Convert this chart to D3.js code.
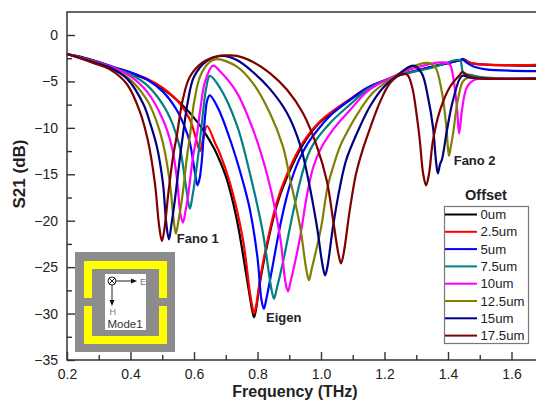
<!DOCTYPE html>
<html>
<head>
<meta charset="utf-8">
<script src="https://cdn.jsdelivr.net/npm/d3@7"></script>
<style>
  html, body { margin: 0; padding: 0; background: #fff; overflow: hidden; }
  text { font-family: "Liberation Sans", Arial, sans-serif; }
</style>
</head>
<body>
<div id="chart"></div>
<script>
// [frequency THz, S21 dB]
var s0 = [[0.2,-2.05],[0.25,-2.4],[0.3,-2.95],[0.35,-3.55],[0.398,-4.1],[0.452,-4.8],[0.502,-5.8],[0.556,-7.3],[0.609,-9.3],[0.66,-12],[0.682,-13.6],[0.704,-15.6],[0.735,-19.9],[0.767,-26.3],[0.783,-29.6],[0.789,-30.4],[0.795,-29.6],[0.808,-26.6],[0.83,-22.7],[0.861,-18.3],[0.893,-15.3],[0.943,-11.8],[0.997,-9.4],[1.091,-7],[1.145,-5.8],[1.208,-4.8],[1.249,-4.3],[1.353,-3.4],[1.44,-2.7],[1.448,-2.6],[1.47,-3],[1.52,-3.2],[1.68,-3.3]];
var s1 = [[0.2,-2.05],[0.3,-2.9],[0.35,-3.5],[0.398,-4.05],[0.452,-4.7],[0.502,-5.7],[0.556,-7.4],[0.587,-9.1],[0.605,-11],[0.619,-12.5],[0.628,-11.3],[0.641,-9.8],[0.666,-11.6],[0.682,-12.8],[0.713,-15.9],[0.754,-22],[0.776,-27.7],[0.784,-29.3],[0.789,-30],[0.795,-29.3],[0.808,-26.3],[0.83,-22.4],[0.861,-18],[0.893,-15],[0.943,-11.6],[0.997,-9.3],[1.091,-6.9],[1.145,-5.7],[1.208,-4.8],[1.249,-4.3],[1.353,-3.4],[1.44,-2.7],[1.45,-2.7],[1.47,-3],[1.52,-3.2],[1.68,-3.2]];
var s2 = [[0.2,-2.05],[0.3,-2.9],[0.35,-3.5],[0.398,-4],[0.452,-4.8],[0.502,-6.1],[0.546,-8.1],[0.572,-10],[0.587,-11.6],[0.603,-14.8],[0.611,-16.2],[0.618,-15.4],[0.625,-13.4],[0.635,-8.7],[0.642,-7],[0.65,-6.5],[0.676,-7.9],[0.713,-11.2],[0.751,-15.4],[0.776,-18.8],[0.8,-24],[0.812,-28.4],[0.82,-29.5],[0.828,-28.4],[0.84,-26.3],[0.871,-20.6],[0.89,-17.7],[0.909,-15.4],[0.93,-13.5],[0.956,-11.8],[0.997,-9.9],[1.038,-8.4],[1.091,-7],[1.145,-5.7],[1.208,-4.8],[1.249,-4.3],[1.353,-3.4],[1.438,-2.7],[1.444,-2.6],[1.46,-3],[1.48,-3.4],[1.52,-3.7],[1.68,-3.9]];
var s3 = [[0.2,-2.05],[0.3,-3],[0.35,-3.55],[0.398,-4.2],[0.452,-5.4],[0.502,-7.5],[0.534,-9.7],[0.556,-12.2],[0.576,-16.6],[0.587,-18.7],[0.595,-17.4],[0.603,-15.6],[0.616,-12.2],[0.628,-8.5],[0.638,-5.8],[0.65,-4.4],[0.682,-5.7],[0.735,-9.7],[0.776,-14.9],[0.817,-21.3],[0.844,-27.4],[0.852,-28.4],[0.86,-27.4],[0.88,-24.5],[0.912,-19.1],[0.934,-15.8],[0.955,-13.3],[0.975,-11.8],[1.028,-9.5],[1.091,-7.5],[1.145,-5.9],[1.208,-4.8],[1.249,-4.3],[1.353,-3.5],[1.437,-2.7],[1.445,-3.8],[1.452,-4.2],[1.47,-4.3],[1.52,-4.6],[1.68,-4.7]];
var s4 = [[0.2,-2.05],[0.3,-3],[0.35,-3.6],[0.398,-4.4],[0.452,-6.1],[0.502,-9.1],[0.53,-12],[0.546,-15.4],[0.557,-19.2],[0.565,-20.2],[0.573,-19],[0.581,-17.4],[0.597,-13.1],[0.609,-10.8],[0.62,-8],[0.635,-5],[0.66,-3.3],[0.682,-3.9],[0.735,-6.2],[0.786,-10.2],[0.833,-15.4],[0.871,-21.7],[0.888,-26.6],[0.896,-27.6],[0.904,-26.6],[0.934,-21.8],[0.955,-17.4],[0.975,-14.3],[0.997,-12.4],[1.038,-10.2],[1.091,-8.1],[1.145,-6.1],[1.208,-4.8],[1.3,-3.5],[1.385,-2.95],[1.406,-3.2],[1.416,-4.5],[1.428,-7.7],[1.435,-10.6],[1.444,-8.1],[1.46,-5.6],[1.485,-4.8],[1.52,-4.7],[1.68,-4.7]];
var s5 = [[0.2,-2.05],[0.3,-3.05],[0.35,-3.8],[0.389,-4.5],[0.452,-7],[0.483,-9.4],[0.502,-11.6],[0.524,-15.9],[0.535,-19.6],[0.543,-21.4],[0.551,-20],[0.562,-17.7],[0.578,-13.1],[0.587,-10.9],[0.6,-7.3],[0.62,-4.4],[0.65,-2.9],[0.672,-2.6],[0.735,-3.4],[0.786,-5.2],[0.839,-8.4],[0.88,-12],[0.902,-15.4],[0.934,-20.6],[0.954,-25.3],[0.962,-26.4],[0.97,-25.3],[1,-20.8],[1.02,-16.5],[1.04,-14],[1.06,-12],[1.08,-10.6],[1.113,-8.6],[1.164,-6.2],[1.227,-4.6],[1.28,-3.5],[1.337,-3],[1.359,-3.4],[1.381,-6.2],[1.395,-10],[1.399,-11.8],[1.403,-13],[1.408,-12.2],[1.416,-10.6],[1.431,-7],[1.447,-5],[1.463,-4.6],[1.52,-4.7],[1.68,-4.7]];
var s6 = [[0.2,-2.05],[0.3,-3.1],[0.335,-3.5],[0.389,-4.7],[0.44,-7.4],[0.461,-9.4],[0.483,-12],[0.502,-15.9],[0.513,-20.4],[0.521,-22],[0.529,-20.4],[0.54,-17.7],[0.556,-13.1],[0.565,-10.8],[0.58,-7.3],[0.6,-4.5],[0.64,-2.8],[0.69,-2.25],[0.735,-2.7],[0.786,-4],[0.839,-5.8],[0.893,-8.4],[0.934,-11.8],[0.959,-15.4],[0.987,-20.6],[1.005,-24.8],[1.013,-25.9],[1.021,-24.8],[1.038,-20.6],[1.06,-16.3],[1.08,-13.4],[1.113,-10.6],[1.154,-7.7],[1.195,-5.7],[1.239,-4.4],[1.29,-3.3],[1.317,-4.1],[1.337,-6.7],[1.353,-10],[1.362,-13.5],[1.368,-14.9],[1.375,-13.9],[1.381,-13.4],[1.397,-10.2],[1.416,-7],[1.444,-4.4],[1.47,-4.6],[1.52,-4.7],[1.68,-4.7]];
var s7 = [[0.2,-2.05],[0.282,-3],[0.335,-3.7],[0.389,-5.3],[0.43,-8.3],[0.455,-11.4],[0.477,-16],[0.49,-20.5],[0.499,-22.2],[0.508,-20.6],[0.518,-17.4],[0.534,-13.1],[0.546,-10.8],[0.565,-6.9],[0.587,-4.5],[0.625,-3],[0.672,-2.3],[0.703,-2.2],[0.735,-2.25],[0.786,-2.9],[0.839,-4.1],[0.893,-5.9],[0.943,-8.4],[0.987,-12],[1.019,-15.8],[1.038,-19.9],[1.055,-23.6],[1.063,-24.6],[1.071,-23.6],[1.09,-19],[1.11,-15],[1.13,-12.5],[1.155,-10],[1.186,-7.2],[1.217,-5.2],[1.249,-4.3],[1.271,-4.25],[1.287,-5.6],[1.302,-8.8],[1.311,-11.3],[1.322,-15],[1.331,-16.2],[1.34,-15],[1.353,-11.3],[1.375,-8.1],[1.406,-5.6],[1.437,-4.3],[1.445,-4],[1.47,-4.5],[1.52,-4.7],[1.68,-4.7]];

var seriesData = [s0, s1, s2, s3, s4, s5, s6, s7];
var seriesNames = ["0um", "2.5um", "5um", "7.5um", "10um", "12.5um", "15um", "17.5um"];
var seriesColors = ["#000000", "#ff0000", "#0000ff", "#008080", "#ff00ff", "#808000", "#000080", "#800000"];
var xTicks = [0.2, 0.4, 0.6, 0.8, 1.0, 1.2, 1.4, 1.6];
var yTicks = [0, -5, -10, -15, -20, -25, -30, -35];
var xMinor = [0.3, 0.5, 0.7, 0.9, 1.1, 1.3, 1.5];
var yMinor = [-2.5, -7.5, -12.5, -17.5, -22.5, -27.5, -32.5];
var annotations = [
  { text: "Fano 1", x: 0.546, y: -21.9 },
  { text: "Eigen", x: 0.827, y: -30.4 },
  { text: "Fano 2", x: 1.418, y: -13.5 }
];

var width = 536, height = 401;
var left = 67, top_ = 12, bottom = 360;
var axisColor = "#333";

var x = d3.scaleLinear().domain([0.2, 1.6]).range([left, 511.5]);
var y = d3.scaleLinear().domain([0, -35]).range([35, bottom]);

var svg = d3.select("#chart").append("svg")
  .attr("width", width)
  .attr("height", height)
  .style("display", "block");

var line = d3.line()
  .x(function(d) { return x(d[0]); })
  .y(function(d) { return y(d[1]); })
  .curve(d3.curveCatmullRom.alpha(0.5));

// curves
svg.append("g").selectAll("path")
  .data(seriesData)
  .enter().append("path")
  .attr("fill", "none")
  .attr("stroke", function(d, i) { return seriesColors[i]; })
  .attr("stroke-width", 2.2)
  .attr("d", line);

// axes
function styleAxis(g) {
  g.selectAll(".domain").remove();
  g.selectAll("line").attr("stroke", axisColor).attr("stroke-width", 1.4);
  g.selectAll("text")
    .attr("fill", "#222")
    .style("font-size", "14px")
    .style("font-family", "'Liberation Sans', Arial, sans-serif");
}

svg.append("g")
  .attr("transform", "translate(0," + bottom + ")")
  .call(d3.axisBottom(x).tickValues(xTicks).tickFormat(d3.format(".1f")).tickSizeInner(-8).tickPadding(9))
  .call(styleAxis);

svg.append("g")
  .attr("transform", "translate(0," + bottom + ")")
  .call(d3.axisBottom(x).tickValues(xMinor).tickFormat("").tickSizeInner(-5))
  .call(styleAxis);

svg.append("g")
  .attr("transform", "translate(" + left + ",0)")
  .call(d3.axisLeft(y).tickValues(yTicks).tickFormat(d3.format("d")).tickSizeInner(-8).tickPadding(9))
  .call(styleAxis);

svg.append("g")
  .attr("transform", "translate(" + left + ",0)")
  .call(d3.axisLeft(y).tickValues(yMinor).tickFormat("").tickSizeInner(-5))
  .call(styleAxis);

// frame, runs off the right edge like the picture
svg.append("path")
  .attr("fill", "none")
  .attr("stroke", axisColor)
  .attr("stroke-width", 1.5)
  .attr("d", "M" + width + "," + top_ + "H" + left + "V" + bottom + "H" + width);

// axis titles
svg.append("text")
  .attr("x", 295)
  .attr("y", 397)
  .attr("text-anchor", "middle")
  .attr("font-size", 16)
  .attr("font-weight", "bold")
  .attr("fill", "#222")
  .text("Frequency (THz)");

svg.append("text")
  .attr("transform", "translate(25,174) rotate(-90)")
  .attr("text-anchor", "middle")
  .attr("font-size", 17)
  .attr("font-weight", "bold")
  .attr("fill", "#222")
  .text("S21 (dB)");

// peak labels
svg.append("g").selectAll("text")
  .data(annotations)
  .enter().append("text")
  .attr("x", function(d) { return x(d.x); })
  .attr("y", function(d) { return y(d.y) + 5; })
  .attr("font-size", 13)
  .attr("font-weight", "bold")
  .attr("fill", "#222")
  .text(function(d) { return d.text; });

// legend
var legend = svg.append("g");
legend.append("text")
  .attr("x", 486).attr("y", 200)
  .attr("text-anchor", "middle")
  .attr("font-size", 14.5)
  .attr("font-weight", "bold")
  .attr("fill", "#222")
  .text("Offset");
legend.append("rect")
  .attr("x", 444.5).attr("y", 206.5)
  .attr("width", 84).attr("height", 137)
  .attr("fill", "#fff")
  .attr("stroke", "#777")
  .attr("stroke-width", 1.2);

var rows = legend.selectAll(".row")
  .data(seriesNames)
  .enter().append("g")
  .attr("class", "row")
  .attr("transform", function(d, i) { return "translate(0," + (214.5 + i * 17.3) + ")"; });
rows.append("line")
  .attr("x1", 445).attr("x2", 477)
  .attr("stroke", function(d, i) { return seriesColors[i]; })
  .attr("stroke-width", 2);
rows.append("text")
  .attr("x", 480.5).attr("y", 4.5)
  .attr("font-size", 13.2)
  .attr("fill", "#222")
  .text(function(d) { return d; });

// inset drawing of the resonator
var inset = svg.append("g");
inset.append("rect").attr("x", 75).attr("y", 252).attr("width", 100).attr("height", 100).attr("fill", "#8c8c8c");
inset.append("path")
  .attr("fill", "#ffff00")
  .attr("d", "M84,298V261H167V298H159V269H92V298Z M84,306V344H167V306H159V336H92V306Z");
inset.append("rect").attr("x", 105).attr("y", 274).attr("width", 41).attr("height", 56).attr("fill", "#fff");
inset.append("circle").attr("cx", 112).attr("cy", 281).attr("r", 4).attr("fill", "#fff").attr("stroke", "#222");
inset.append("path").attr("stroke", "#222").attr("fill", "none").attr("d", "M109.2,278.2L114.8,283.8M114.8,278.2L109.2,283.8M116,281H132M112,285V301");
inset.append("path").attr("fill", "#111").attr("d", "M137,281L131,278.5V283.5Z M112,306L109.5,300H114.5Z");
inset.append("text").attr("x", 140).attr("y", 285).attr("font-size", 9).attr("fill", "#777").text("E");
inset.append("text").attr("x", 109.5).attr("y", 315).attr("font-size", 9).attr("fill", "#777").text("H");
inset.append("text").attr("x", 125).attr("y", 328).attr("text-anchor", "middle").attr("font-size", 11.5).attr("fill", "#333").text("Mode1");
</script>
</body>
</html>
